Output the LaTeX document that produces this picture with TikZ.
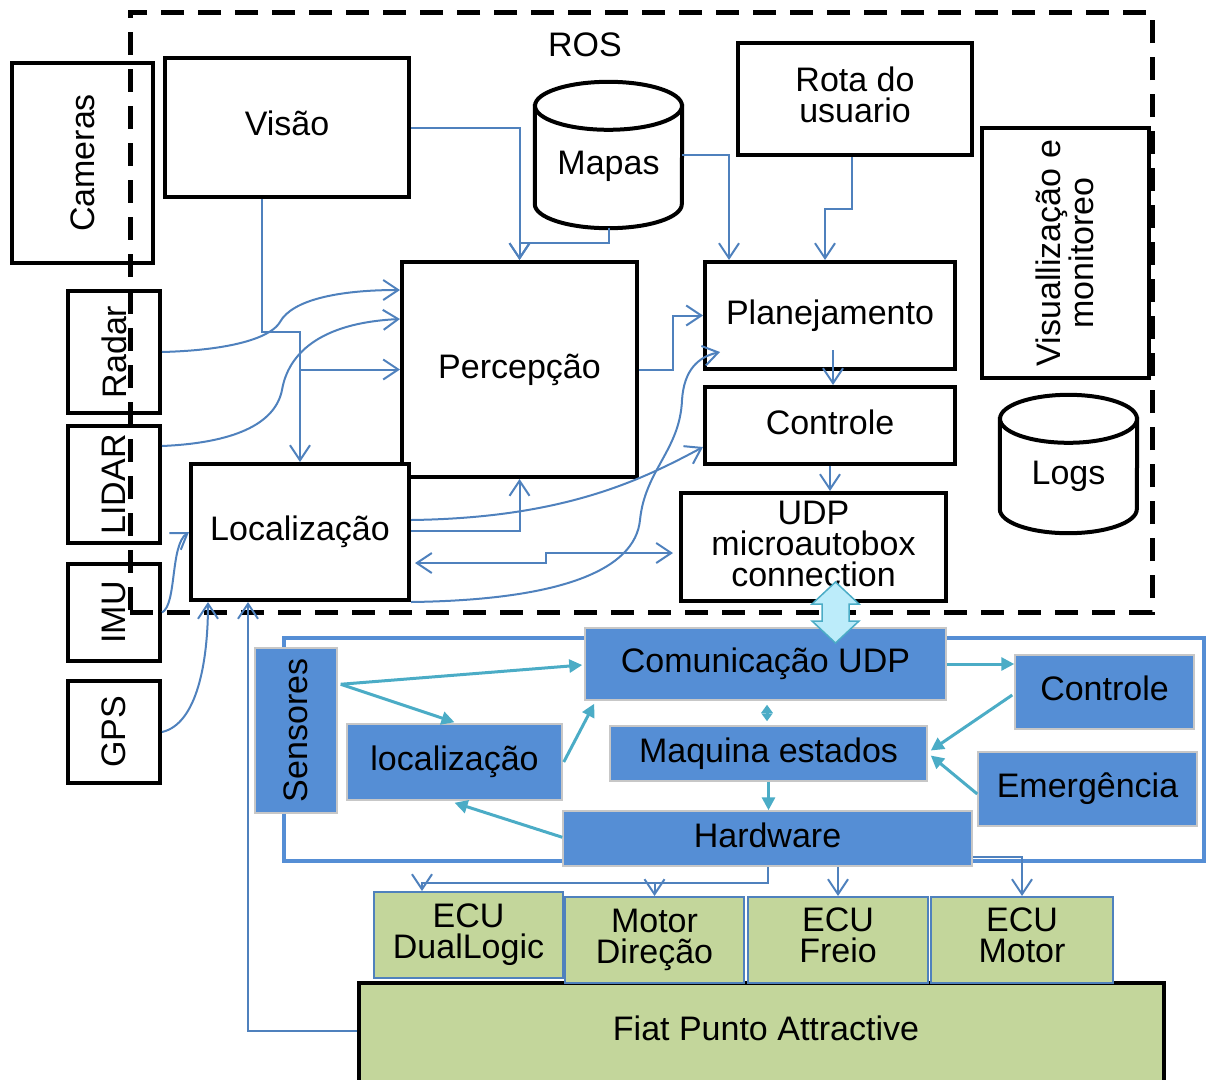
\documentclass[tikz,border=0pt]{standalone}
\usepackage{fontspec}
\setmainfont{Liberation Sans}
\usetikzlibrary{arrows.meta,calc}
\definecolor{linkblue}{RGB}{79,129,189}
\definecolor{tealline}{RGB}{75,172,198}
\definecolor{boxblue}{RGB}{85,142,213}
\definecolor{ecugreen}{RGB}{195,214,155}
\definecolor{linkcyan}{RGB}{188,236,250}
\begin{document}
\begin{tikzpicture}[x=1pt,y=-1pt,font=\fontsize{34}{31}\selectfont,
  blk/.style={draw=black,line width=4pt,fill=white,inner sep=0pt,align=center},
  ghost/.style={inner sep=0pt},
  cylline/.style={draw=black,line width=4pt,fill=white},
  bluebox/.style={fill=boxblue,draw=black!22,line width=1.5pt,inner sep=0pt,align=center},
  ecubox/.style={fill=ecugreen,draw=linkblue,line width=2pt,inner sep=0pt,align=center},
  link/.style={draw=linkblue,line width=2pt,-{Straight Barb[length=15pt,width=20pt]}},
  linkboth/.style={draw=linkblue,line width=2pt,{Straight Barb[length=15pt,width=20pt]}-{Straight Barb[length=15pt,width=20pt]}},
  tlink/.style={draw=tealline,line width=3pt,-{Triangle[length=13pt,width=13pt]}},
  tlinkboth/.style={draw=tealline,line width=3pt,{Triangle[length=8pt,width=11pt]}-{Triangle[length=8pt,width=11pt]}}]
\useasboundingbox (0,0) rectangle (1209,1079);
\clip (0,0) rectangle (1209,1079);

% ---------- vehicle layer ----------
\node[fill=ecugreen,draw=black,line width=4pt,minimum width=805pt,minimum height=110pt,inner sep=0pt] (fiat) at (761.5,1038) {};
\node (fiatlabel) at (766,1028) {Fiat Punto Attractive};
\node[ecubox,minimum width=189pt,minimum height=86pt] (ecu1) at (468.5,935) {ECU\\DualLogic};
\node[ecubox,minimum width=179pt,minimum height=86pt] (mot) at (654.5,940) {Motor\\Direção};
\node[ecubox,minimum width=180pt,minimum height=86pt,text depth=9pt] (freio) at (838,940) {ECU\\Freio};
\node[ecubox,minimum width=182pt,minimum height=86pt,text depth=9pt] (motor2) at (1022,940) {ECU\\Motor};

% ---------- microautobox layer ----------
\node[draw=boxblue,line width=4.5pt,minimum width=920pt,minimum height=223pt,inner sep=0pt] (lowframe) at (744,749.5) {};
\node[bluebox,minimum width=82pt,minimum height=165pt] (sens) at (296,730.5) {\rotatebox{90}{Sensores}};
\node[bluebox,minimum width=361pt,minimum height=72pt] (com) at (765.5,664) {Comunicação UDP};
\node[bluebox,minimum width=179pt,minimum height=74pt,text depth=8pt] (ctrl2) at (1104.5,692) {Controle};
\node[bluebox,minimum width=215pt,minimum height=76pt] (loc2) at (454.5,762) {localização};
\node[bluebox,minimum width=317pt,minimum height=55pt] (maq) at (768.5,753.5) {Maquina estados};
\node[bluebox,minimum width=219pt,minimum height=74pt] (emerg) at (1087.5,789) {Emergência};
\node[bluebox,minimum width=409pt,minimum height=55pt,text depth=6pt] (hw) at (767.5,838.5) {Hardware};

% ---------- external sensors ----------
\node[blk,rotate=90,minimum width=200pt,minimum height=141pt] (cameras) at (82.5,163) {Cameras};
\node[blk,minimum width=92pt,minimum height=122pt] (radar) at (114,352) {\rotatebox{90}{Radar}};
\node[blk,minimum width=92pt,minimum height=117pt] (lidar) at (114,484.5) {\rotatebox{90}{LIDAR}};
\node[blk,minimum width=92pt,minimum height=97pt] (imu) at (114,612.5) {\rotatebox{90}{IMU}};
\node[blk,minimum width=92pt,minimum height=102pt] (gps) at (114,732) {\rotatebox{90}{GPS}};

% ---------- ROS modules ----------
\node[blk,minimum width=244pt,minimum height=139pt,text depth=8pt] (visao) at (287,127.5) {Visão};
\node[blk,minimum width=234pt,minimum height=112pt,text depth=9pt] (rota) at (855,99) {Rota do\\usuario};
\node[blk,rotate=90,minimum width=250pt,minimum height=167pt] (vis) at (1065,253) {Visuallização e\\monitoreo};
\node[blk,minimum width=235pt,minimum height=215pt] (perc) at (519.5,369.5) {Percepção};
\node[blk,minimum width=250pt,minimum height=107pt] (plan) at (830,315.5) {Planejamento};
\node[blk,minimum width=250pt,minimum height=77pt,text depth=6pt] (ctrl) at (830,425.5) {Controle};
\node[blk,minimum width=265pt,minimum height=108pt,text depth=7pt] (udp) at (813.5,547) {UDP\\microautobox\\connection};
\node[blk,minimum width=218pt,minimum height=136pt] (loc) at (300,532) {Localização};

% databases drawn as cylinders
\node[ghost,minimum width=147pt,minimum height=146pt] (mapas) at (608.5,155) {};
\draw[cylline] ($(mapas.north west)+(0,24)$) -- ($(mapas.south west)+(0,-24)$)
  arc[start angle=180,end angle=0,x radius=73.5,y radius=24] -- ($(mapas.north east)+(0,24)$) -- cycle;
\draw[cylline] ($(mapas.north)+(0,24)$) ellipse[x radius=73.5,y radius=24];
\node (mapaslabel) at ($(mapas.center)+(0,11)$) {Mapas};

\node[ghost,minimum width=137pt,minimum height=138pt] (logs) at (1068.5,464) {};
\draw[cylline] ($(logs.north west)+(0,24)$) -- ($(logs.south west)+(0,-24)$)
  arc[start angle=180,end angle=0,x radius=68.5,y radius=24] -- ($(logs.north east)+(0,24)$) -- cycle;
\draw[cylline] ($(logs.north)+(0,24)$) ellipse[x radius=68.5,y radius=24];
\node (logslabel) at ($(logs.center)+(0,12)$) {Logs};

\node (roslabel) at (585,45) {ROS};

% ROS boundary
\node[draw=black,line width=5pt,dash pattern=on 23pt off 14pt,minimum width=1022pt,minimum height=600pt,inner sep=0pt] (rosframe) at (641,312) {};

% ---------- ROS data flow ----------
\draw[link] (visao.east) -| (perc.north);
\draw[link] (mapas.south) -- ++(0,15) -| (perc.north);
\draw[link] (mapas.east) -| ($(plan.north west)+(26,0)$);
\draw[link] ($(rota.south)+(-3,0)$) -- ++(0,52) -| ($(plan.north west)+(122,0)$);
\draw[link] (perc.east) -- ++(34,0) |- (plan.west);
\draw[link] ($(plan.south)+(3,-21)$) -- ($(ctrl.north)+(3,0)$);
\draw[link] (ctrl.south) -- (ctrl.south |- udp.north);

\coordinate (vbend) at ($(visao.south)+(-25,133)$);
\draw[link] ($(visao.south)+(-25,0)$) -- (vbend) -| (loc.north);
\draw[link] (loc.north |- perc.west) -- (perc.west);

\draw[link] (radar.east) .. controls +(75,-2) and +(-8,14) .. (280,322)
  .. controls +(12,-22) and +(-62,0) .. ($(perc.north west)+(0,30)$);
\draw[link] ($(lidar.north east)+(0,22)$) .. controls +(70,-3) and +(-7,35) .. (282,390)
  .. controls +(6,-35) and +(-82,4) .. ($(perc.north west)+(0,59)$);
\draw[link] (imu.east) .. controls +(15,-8) and +(-19,13) .. (loc.west);
\draw[link] (gps.east) .. controls +(35,-8) and +(0,60) .. ($(loc.south west)+(19,0)$);
\draw[link] ($(fiat.north west)+(0,50)$) -| ($(loc.south west)+(59,0)$);

\draw[link] ($(loc.north east)+(0,58)$) .. controls +(150,-2) and +(-65,35) .. ($(ctrl.south west)+(0,-19)$);
\draw[link] (loc.south east) .. controls +(150,-2) and +(-5,50) .. (640,520)
  .. controls +(5,-50) and +(-2,50) .. (682,400)
  .. controls +(2,-30) and +(-22,5) .. ($(plan.south west)+(17,-19)$);
\draw[link] ($(loc.north east)+(0,69)$) -| (perc.south);
\draw[linkboth] ($(loc.north east)+(4,101)$) -- ++(131,0) |- ($(udp.west)+(-6,6)$);

% ---------- microautobox data flow ----------
\draw[tlink] ($(sens.north east)+(3,37)$) -- ($(com.west)+(-2,1)$);
\draw[tlink] ($(sens.north east)+(3,37)$) -- ($(loc2.north)+(0,-1)$);
\draw[tlink] ($(loc2.east)+(1,0)$) -- ($(com.south west)+(10,3)$);
\draw[tlink] (com.east) -- (com.east -| ctrl2.west);
\draw[tlink] ($(ctrl2.west)+(-2,3)$) -- ($(maq.east)+(3,-3)$);
\draw[tlink] ($(emerg.west)+(0,5)$) -- ($(maq.east)+(3,2)$);
\draw[tlinkboth] ($(com.south)+(1.5,4)$) -- ($(maq.north)+(-1.5,-4)$);
\draw[tlink] (maq.south) -- (maq.south |- hw.north);
\draw[tlink] ($(hw.north west)+(0,27)$) -- ($(loc2.south)+(0,2)$);

% ---------- hardware outputs ----------
\coordinate (hwdrop) at ($(hw.south)+(0.5,16)$);
\draw[link] ($(hw.south)+(0.5,0)$) -- (hwdrop) -| ($(ecu1.north west)+(49,0)$);
\draw[link] (mot.north |- hwdrop) -- (mot.north);
\draw[link] (freio.north |- hw.south) -- (freio.north);
\draw[link] ($(hw.east)+(0,18)$) -| (motor2.north);

% UDP link between ROS and microautobox
\draw[fill=linkcyan,draw=tealline,line width=1.5pt,line join=miter]
  (835.5,582) -- (859,604) -- (849,604) -- (849,621) -- (859,621) -- (835.5,643)
  -- (812,621) -- (822,621) -- (822,604) -- (812,604) -- cycle;
\end{tikzpicture}
\end{document}
